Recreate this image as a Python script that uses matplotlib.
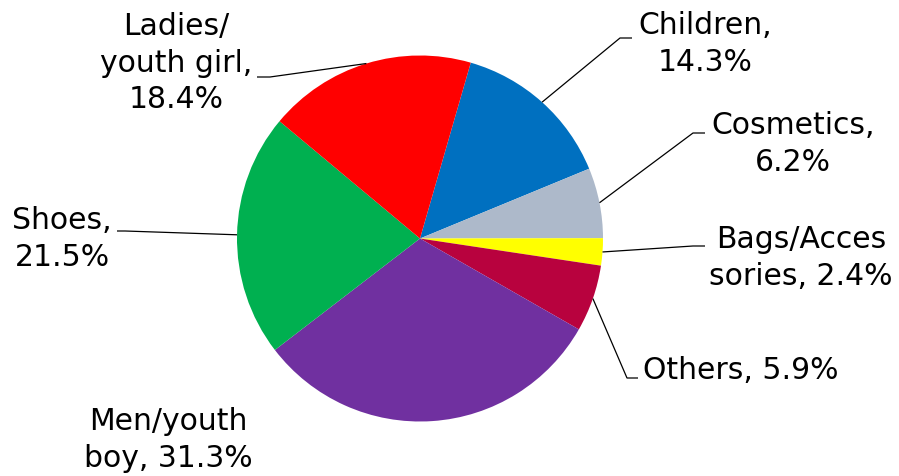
import numpy as np
import matplotlib
matplotlib.use("Agg")
import matplotlib.pyplot as plt

# Sales share by product category
categories = ["Children", "Cosmetics", "Bags/Accessories", "Others",
              "Men/youth boy", "Shoes", "Ladies/youth girl"]
shares = [14.3, 6.2, 2.4, 5.9, 31.3, 21.5, 18.4]
label_formats = ["Children,\n{:.1f}%", "Cosmetics,\n{:.1f}%",
                 "Bags/Acces\nsories, {:.1f}%", "Others, {:.1f}%",
                 "Men/youth\nboy, {:.1f}%", "Shoes,\n{:.1f}%",
                 "Ladies/\nyouth girl,\n{:.1f}%"]
colors = ["#0070C0", "#ADB9CA", "#FFFF00", "#B8023E",
          "#7030A0", "#00B050", "#FF0000"]

W, H = 899, 477
fig = plt.figure(figsize=(W / 100, H / 100), dpi=100)
ax = fig.add_axes([0, 0, 1, 1])

cx, cy, r = 420, H - 239.5, 183
wedges, _ = ax.pie(shares, colors=colors, center=(cx, cy), radius=r,
                   startangle=73.9, counterclock=False, frame=True)
ax.set_xlim(0, W)
ax.set_ylim(0, H)
ax.set_aspect("equal")
ax.axis("off")

# label layout: text centre (px from top-left), elbow x, elbow y, text-side x
layout = {
    "Children": ((705, 44), (620, 39, 632)),
    "Cosmetics": ((793, 144), (693, 134, 705)),
    "Bags/Accessories": ((801, 258), (693, 247, 705)),
    "Others": ((741, 371), (627, 379, 638)),
    "Men/youth boy": ((168, 440), None),
    "Shoes": ((62, 239), (125, 232, 117)),
    "Ladies/youth girl": ((176, 63), (270, 78, 257)),
}

for w, cat, fmt, val in zip(wedges, categories, label_formats, shares):
    (tx, ty), leader = layout[cat]
    ax.text(tx, H - ty, fmt.format(val), ha="center", va="center",
            multialignment="center", fontsize=21.5, linespacing=1.32,
            color="black", family="DejaVu Sans")
    if leader is not None:
        mid = np.deg2rad((w.theta1 + w.theta2) / 2)
        ex, ey = cx + r * np.cos(mid), cy + r * np.sin(mid)
        bx, by, sx = leader
        ax.plot([ex, bx, sx], [ey, H - by, H - by], color="black", lw=0.9,
                solid_capstyle="butt")

fig.savefig("out.png", dpi=100)
